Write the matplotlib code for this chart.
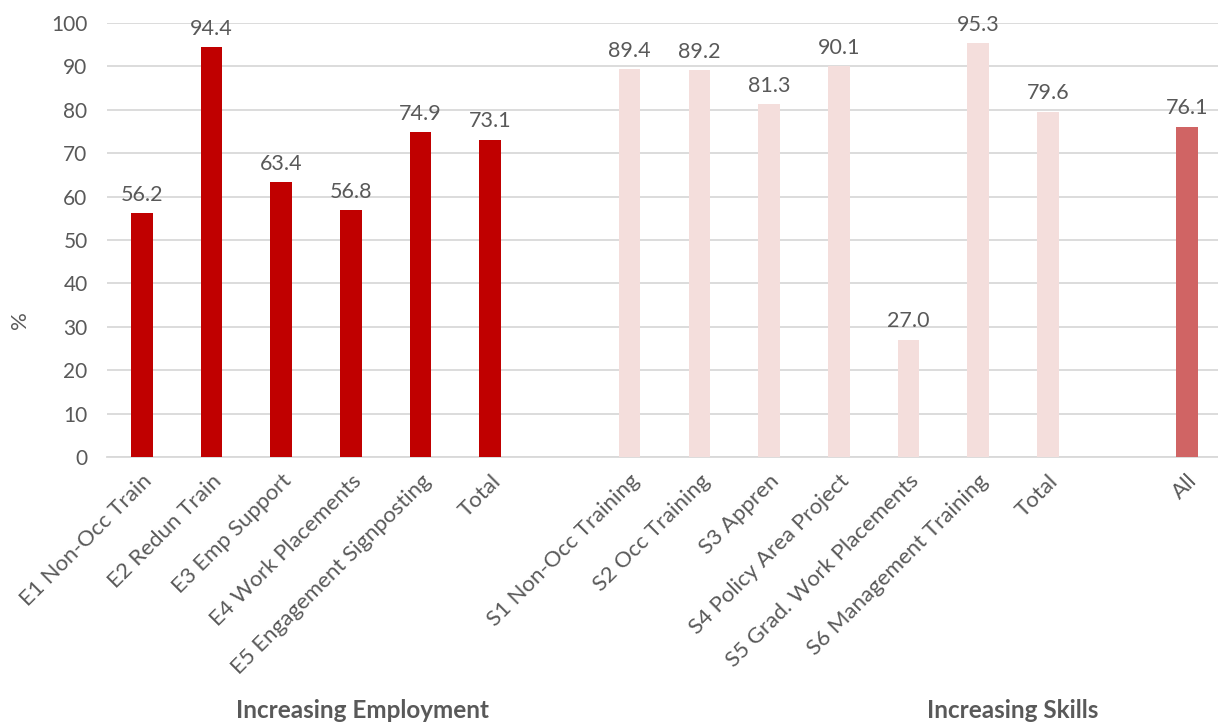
import numpy as np
import matplotlib.pyplot as plt

plt.rcParams['font.family'] = ['Lato', 'DejaVu Sans']

emp_labels = ['E1 Non-Occ Train', 'E2 Redun Train', 'E3 Emp Support',
              'E4 Work Placements', 'E5 Engagement Signposting', 'Total']
emp_values = [56.2, 94.4, 63.4, 56.8, 74.9, 73.1]
skill_labels = ['S1 Non-Occ Training', 'S2 Occ Training', 'S3 Appren',
                'S4 Policy Area Project', 'S5 Grad. Work Placements',
                'S6 Management Training', 'Total']
skill_values = [89.4, 89.2, 81.3, 90.1, 27.0, 95.3, 79.6]
all_label = 'All'
all_value = 76.1

red = '#C00000'
pink = '#F4DEDC'
mid = '#D06464'
grey = '#595959'

# slot positions, with an empty slot between the groups
emp_x = np.arange(len(emp_values))
skill_x = np.arange(len(skill_values)) + len(emp_values) + 1
all_x = skill_x[-1] + 2

fig = plt.figure(figsize=(12.18, 7.25), dpi=100)
ax = fig.add_axes([107 / 1218, 1 - 457 / 725, 1115 / 1218, 434 / 725])

w = 0.31
ax.bar(emp_x, emp_values, width=w, color=red, zorder=3)
ax.bar(skill_x, skill_values, width=w, color=pink, zorder=3)
ax.bar([all_x], [all_value], width=w, color=mid, zorder=3)

xs = list(emp_x) + list(skill_x) + [all_x]
vals = emp_values + skill_values + [all_value]
for x, v in zip(xs, vals):
    ax.annotate(f'{v:.1f}', (x, v), xytext=(0, 6), textcoords='offset points',
                ha='center', va='bottom', fontsize=15.5, color=grey)

ax.set_xlim(-0.5, all_x + 0.5)
ax.set_ylim(0, 100)
ax.set_yticks(range(0, 101, 10))
ax.set_xticks(xs)
ax.set_xticklabels(emp_labels + skill_labels + [all_label], rotation=45,
                   ha='right', rotation_mode='anchor', fontsize=16, color=grey)
ax.tick_params(axis='y', labelsize=15, labelcolor=grey, length=0, pad=14)
ax.tick_params(axis='x', length=0, pad=10)
ax.grid(axis='y', color='#D9D9D9', linewidth=1.3, zorder=0)
for s in ['top', 'right', 'left']:
    ax.spines[s].set_visible(False)
ax.spines['bottom'].set_color('#D9D9D9')
ax.spines['bottom'].set_linewidth(1.3)

fig.text(20 / 1218, 1 - 320 / 725, '%', rotation=90, ha='center', va='center',
         fontsize=16, color=grey)
fig.text(362 / 1218, 1 - 710 / 725, 'Increasing Employment', ha='center',
         va='center', fontsize=17.5, fontweight='bold', color=grey)
fig.text(1013 / 1218, 1 - 710 / 725, 'Increasing Skills', ha='center',
         va='center', fontsize=17.5, fontweight='bold', color=grey)

fig.savefig('out.png', dpi=100)
